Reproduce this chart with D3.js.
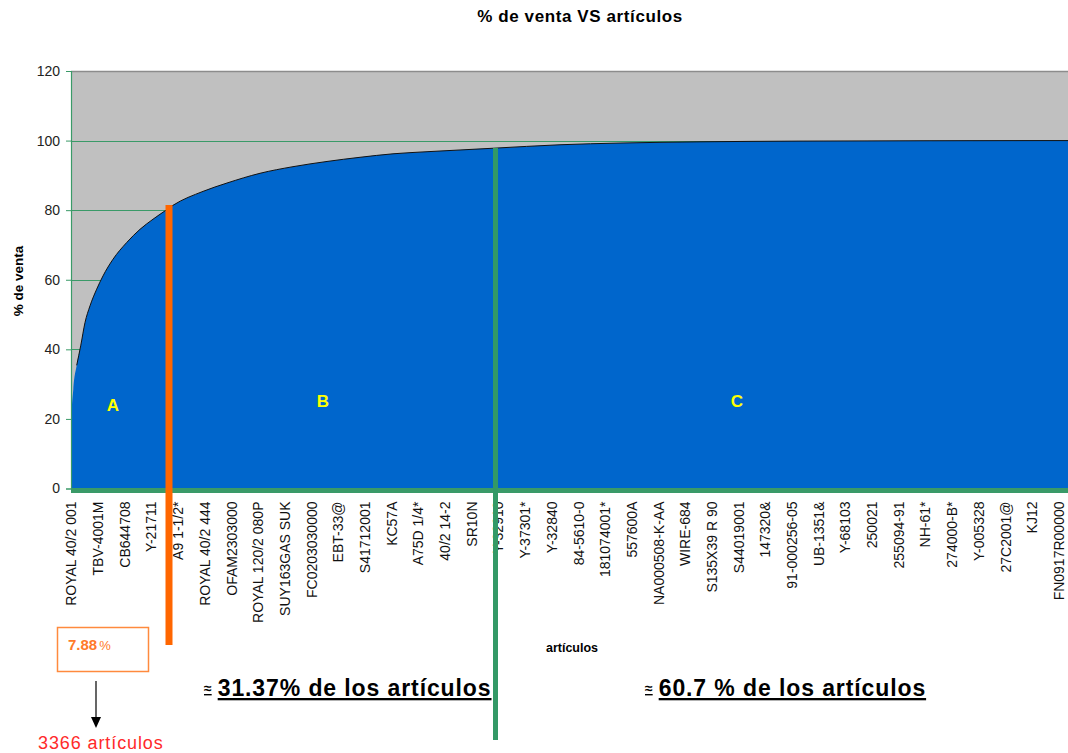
<!DOCTYPE html>
<html>
<head>
<meta charset="utf-8">
<script src="https://cdn.jsdelivr.net/npm/d3@7"></script>
<style>
  body { margin: 0; background: #ffffff; }
  svg { display: block; font-family: "Liberation Sans", Arial, sans-serif; }
</style>
</head>
<body>
<svg id="chart" width="1068" height="753"></svg>
<script>
// Article codes shown on the category axis (one every ~2.7 % of the ranked articles)
const categories = [
  "ROYAL 40/2 001", "TBV-4001M", "CB644708", "Y-21711", "A9 1-1/2*",
  "ROYAL 40/2 444", "OFAM2303000", "ROYAL 120/2 080P", "SUY163GAS SUK", "FC0203030000",
  "EBT-33@", "S41712001", "KC57A", "A75D 1/4*", "40/2 14-2",
  "SR10N", "Y-32910", "Y-37301*", "Y-32840", "84-5610-0",
  "181074001*", "557600A", "NA000508-K-AA", "WIRE-684", "S135X39 R 90",
  "S44019001", "147320&", "91-000256-05", "UB-1351&", "Y-68103",
  "250021", "255094-91", "NH-61*", "274000-B*", "Y-005328",
  "27C2001@", "KJ12", "FN0917R00000"
];

// Value axis ticks (% de venta)
const yTicks = [0, 20, 40, 60, 80, 100, 120];

// Cumulative sales curve: position along the ranked article axis (%) and accumulated sales (%)
const articlePct = [0, 0.05, 0.23, 0.57, 0.97, 1.4, 1.9, 2.57, 3.2, 4.2, 5.57, 6.9, 8.2, 9.4, 10.2,
  13.2, 15.6, 18.9, 22.2, 25.6, 28.9, 32.2, 35.6, 38.9, 42.2, 48.9, 55, 63, 73, 85, 97.3, 100];
const salesPct = [9, 19.5, 28.5, 35.4, 41, 47.7, 52.5, 57.3, 61.1, 65.9, 70.7, 74.5, 77.4, 79.8, 81.4,
  85.4, 87.8, 90.6, 92.5, 94, 95.2, 96.2, 96.8, 97.3, 97.8, 98.8, 99.3, 99.65, 99.85, 99.95, 100, 100];

// ABC classes and the split points on the article axis (%)
const zones = ["A", "B", "C"];
const zoneCuts = [9.8, 42.45];

// Class summaries
const shareAText = "7.88";
const countAText = "3366 artículos";
const shareBText = "31.37% de los artículos";
const shareCText = "60.7 % de los artículos";

const svg = d3.select("#chart");
const W = 1068, H = 753;
const plot = { left: 71, right: 1071, top: 71, bottom: 488.5 };

const x = d3.scaleLinear().domain([0, 100]).range([plot.left, plot.right]);
const y = d3.scaleLinear().domain([0, 120]).range([plot.bottom, plot.top]);
const xCat = d3.scalePoint().domain(categories).range([x(0), x(98.75)]);

const green = "#3a9a68";

svg.append("defs").append("clipPath").attr("id", "plotclip")
  .append("rect").attr("x", plot.left).attr("y", plot.top)
  .attr("width", plot.right - plot.left).attr("height", plot.bottom - plot.top);

// Title
svg.append("text").attr("x", 580).attr("y", 22).attr("text-anchor", "middle")
  .attr("font-size", 17).attr("font-weight", "bold").attr("fill", "#000")
  .attr("letter-spacing", 0.6)
  .text("% de venta VS artículos");

// Plot background
svg.append("rect").attr("x", plot.left).attr("y", plot.top)
  .attr("width", plot.right - plot.left).attr("height", plot.bottom - plot.top)
  .attr("fill", "#c0c0c0");
svg.append("line").attr("x1", plot.left).attr("x2", plot.right)
  .attr("y1", plot.top + 0.5).attr("y2", plot.top + 0.5)
  .attr("stroke", "#8c8c8c").attr("stroke-width", 1.5);

// Horizontal gridlines
svg.append("g").selectAll("line").data(yTicks.filter(v => v > 0 && v < 120)).join("line")
  .attr("x1", plot.left).attr("x2", plot.right)
  .attr("y1", d => Math.round(y(d)) + 0.5).attr("y2", d => Math.round(y(d)) + 0.5)
  .attr("stroke", green).attr("stroke-width", 1);

// Cumulative area
const pts = articlePct.map((p, i) => [p, salesPct[i]]);
const area = d3.area().x(d => x(d[0])).y0(y(0)).y1(d => y(d[1])).curve(d3.curveMonotoneX);
const line = d3.line().x(d => x(d[0])).y(d => y(d[1])).curve(d3.curveMonotoneX);
const g = svg.append("g").attr("clip-path", "url(#plotclip)");
g.append("path").datum(pts).attr("d", area).attr("fill", "#0066cc");
g.append("path").datum(pts.filter(d => d[0] >= 0.5)).attr("d", line)
  .attr("fill", "none").attr("stroke", "#111").attr("stroke-width", 1);

// Value axis
const yAxis = svg.append("g").attr("transform", `translate(${plot.left},0)`)
  .call(d3.axisLeft(y).tickValues(yTicks).tickSize(5).tickPadding(6));
yAxis.select(".domain").attr("stroke", green).attr("stroke-width", 1.2);
yAxis.selectAll(".tick line").attr("stroke", green);
yAxis.selectAll(".tick text").attr("font-size", 14).attr("fill", "#222")
  .attr("font-family", "Liberation Sans, Arial, sans-serif");

svg.append("text")
  .attr("transform", `translate(23,281) rotate(-90)`)
  .attr("text-anchor", "middle").attr("font-size", 13.5).attr("font-weight", "bold")
  .text("% de venta");

// Category axis
const xAxis = svg.append("g").attr("transform", `translate(0,${plot.bottom})`)
  .call(d3.axisBottom(xCat).tickSize(0).tickPadding(0));
xAxis.select(".domain").remove();
xAxis.selectAll(".tick text")
  .attr("font-size", 14).attr("fill", "#111")
  .attr("font-family", "Liberation Sans, Arial, sans-serif")
  .attr("text-anchor", "end").attr("dy", "0.35em")
  .attr("transform", "translate(0,13) rotate(-90)")
  .attr("y", 0).attr("x", 0);

// Thick base line
svg.append("line").attr("x1", plot.left).attr("x2", W)
  .attr("y1", y(0) + 2).attr("y2", y(0) + 2)
  .attr("stroke", green).attr("stroke-width", 5);

svg.append("text").attr("x", 572).attr("y", 652).attr("text-anchor", "middle")
  .attr("font-size", 12.5).attr("font-weight", "bold").text("artículos");

// Class split markers
svg.append("line").attr("x1", x(zoneCuts[0])).attr("x2", x(zoneCuts[0]))
  .attr("y1", y(81.5)).attr("y2", 645)
  .attr("stroke", "#ff6600").attr("stroke-width", 7);
svg.append("line").attr("x1", x(zoneCuts[1])).attr("x2", x(zoneCuts[1]))
  .attr("y1", y(97.9)).attr("y2", 740)
  .attr("stroke", "#339966").attr("stroke-width", 5);

// Class letters
const zoneLabelPos = [[4.2, 24], [25.2, 25], [66.6, 25]];
svg.append("g").selectAll("text").data(zones).join("text")
  .attr("x", (d, i) => x(zoneLabelPos[i][0]))
  .attr("y", (d, i) => y(zoneLabelPos[i][1]))
  .attr("text-anchor", "middle").attr("dy", "0.35em")
  .attr("font-size", 17).attr("font-weight", "bold").attr("fill", "#ffff00")
  .text(d => d);

// Class A summary box
svg.append("rect").attr("x", 57.5).attr("y", 627.5).attr("width", 91).attr("height", 44)
  .attr("fill", "#fff").attr("stroke", "#ff8a3d").attr("stroke-width", 1.5);
const tA = svg.append("text").attr("x", 68).attr("y", 650).attr("fill", "#ff7a29");
tA.append("tspan").attr("font-size", 15).attr("font-weight", "bold").text(shareAText);
tA.append("tspan").attr("font-size", 13).attr("dx", 2).text("%");

svg.append("line").attr("x1", 96).attr("x2", 96).attr("y1", 681).attr("y2", 718)
  .attr("stroke", "#000").attr("stroke-width", 1.2);
svg.append("path").attr("d", "M91,717 L101,717 L96,728 Z").attr("fill", "#000");
svg.append("text").attr("x", 38).attr("y", 749).attr("font-size", 18).attr("fill", "#ff2a2a")
  .attr("letter-spacing", 0.9)
  .text(countAText);

// Class B and C shares
function share(xPos, txt) {
  const t = svg.append("text").attr("x", xPos).attr("y", 696)
    .attr("font-weight", "bold").attr("fill", "#000")
    .style("text-decoration", "underline");
  t.append("tspan").attr("font-size", 14).attr("dy", -3).text("≈");
  t.append("tspan").attr("font-size", 23).attr("dy", 3).attr("dx", 6)
    .attr("letter-spacing", 0.9).text(txt);
}
share(204, shareBText);
share(645, shareCText);
</script>
</body>
</html>
